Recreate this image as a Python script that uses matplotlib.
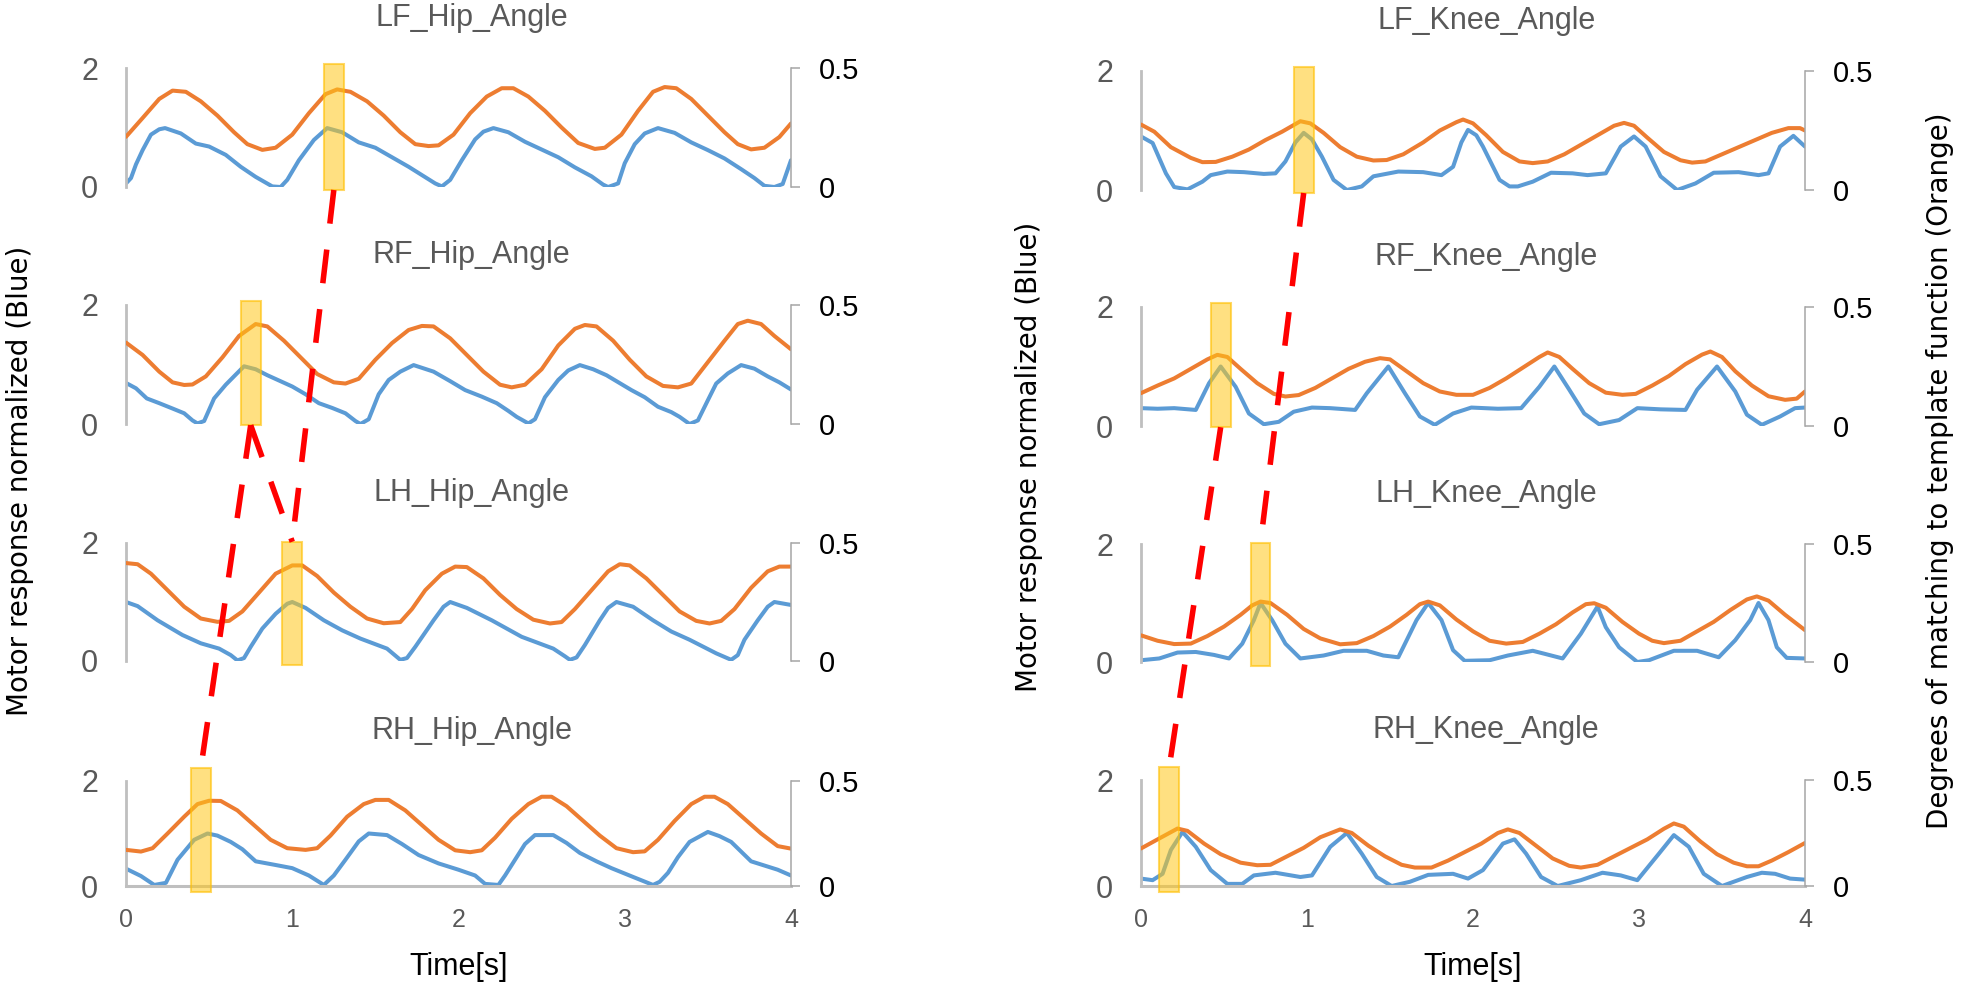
import numpy as np
import matplotlib
matplotlib.use('Agg')
import matplotlib.pyplot as plt
from matplotlib.patches import Rectangle
from matplotlib.lines import Line2D
from matplotlib.transforms import blended_transform_factory

plt.rcParams['font.family'] = ['Liberation Sans', 'DejaVu Sans']

# ---- data: (time [s], value) ----
hip_titles = ['LF_Hip_Angle', 'RF_Hip_Angle', 'LH_Hip_Angle', 'RH_Hip_Angle']
knee_titles = ['LF_Knee_Angle', 'RF_Knee_Angle', 'LH_Knee_Angle', 'RH_Knee_Angle']

lf_hip_blue = [(0, 0.06), (0.03, 0.15), (0.06, 0.38), (0.1, 0.62), (0.15, 0.88), (0.2, 0.97), (0.235, 0.99),
               (0.33, 0.90), (0.42, 0.73), (0.5, 0.68), (0.6, 0.54), (0.69, 0.34), (0.78, 0.17), (0.88, 0.01),
               (0.93, 0.0), (0.97, 0.12), (1.04, 0.45), (1.13, 0.79), (1.21, 0.99), (1.3, 0.92), (1.4, 0.75),
               (1.5, 0.66), (1.6, 0.5), (1.7, 0.34), (1.78, 0.2), (1.86, 0.06), (1.9, 0.01), (1.95, 0.12),
               (2.02, 0.45), (2.1, 0.8), (2.15, 0.93), (2.21, 0.99), (2.3, 0.92), (2.4, 0.76), (2.5, 0.63),
               (2.6, 0.5), (2.7, 0.33), (2.8, 0.18), (2.87, 0.04), (2.9, 0.0), (2.96, 0.06), (3.0, 0.4),
               (3.06, 0.72), (3.12, 0.9), (3.2, 0.99), (3.3, 0.91), (3.4, 0.75), (3.5, 0.62), (3.6, 0.48),
               (3.7, 0.3), (3.78, 0.15), (3.84, 0.02), (3.9, 0.0), (3.95, 0.05), (4.0, 0.45)]
lf_hip_orange = [(0, 0.211), (0.1, 0.29), (0.2, 0.37), (0.28, 0.405), (0.36, 0.40), (0.45, 0.36), (0.55, 0.30),
                 (0.65, 0.23), (0.73, 0.18), (0.82, 0.156), (0.9, 0.165), (1.0, 0.22), (1.1, 0.31), (1.2, 0.39),
                 (1.27, 0.41), (1.35, 0.40), (1.45, 0.36), (1.55, 0.30), (1.65, 0.23), (1.74, 0.18), (1.82, 0.172),
                 (1.88, 0.175), (1.97, 0.22), (2.07, 0.31), (2.17, 0.38), (2.26, 0.415), (2.33, 0.415),
                 (2.42, 0.38), (2.52, 0.32), (2.62, 0.25), (2.72, 0.185), (2.82, 0.16), (2.88, 0.165),
                 (2.98, 0.22), (3.08, 0.32), (3.17, 0.40), (3.24, 0.42), (3.31, 0.415), (3.4, 0.37), (3.5, 0.30),
                 (3.6, 0.23), (3.68, 0.18), (3.76, 0.158), (3.84, 0.165), (3.93, 0.21), (4.0, 0.267)]

rf_hip_blue = [(0, 0.69), (0.06, 0.6), (0.125, 0.43), (0.2, 0.35), (0.28, 0.26), (0.35, 0.18), (0.4, 0.06),
               (0.43, 0.01), (0.47, 0.05), (0.53, 0.43), (0.6, 0.66), (0.66, 0.83), (0.71, 0.97), (0.78, 0.92),
               (0.85, 0.82), (1.0, 0.63), (1.08, 0.5), (1.16, 0.35), (1.24, 0.27), (1.32, 0.18), (1.38, 0.05),
               (1.41, 0.0), (1.46, 0.08), (1.52, 0.5), (1.58, 0.74), (1.65, 0.88), (1.73, 0.99), (1.85, 0.88),
               (1.95, 0.72), (2.04, 0.57), (2.14, 0.46), (2.23, 0.35), (2.3, 0.22), (2.35, 0.12), (2.42, 0.01),
               (2.46, 0.08), (2.52, 0.45), (2.6, 0.74), (2.66, 0.9), (2.73, 0.99), (2.81, 0.92), (2.89, 0.82),
               (3.04, 0.57), (3.12, 0.45), (3.2, 0.29), (3.28, 0.2), (3.33, 0.12), (3.39, 0.0), (3.44, 0.06),
               (3.5, 0.4), (3.55, 0.68), (3.62, 0.85), (3.7, 0.99), (3.78, 0.93), (3.86, 0.8), (3.93, 0.7),
               (4.0, 0.58)]
rf_hip_orange = [(0, 0.342), (0.1, 0.29), (0.2, 0.22), (0.28, 0.175), (0.35, 0.164), (0.4, 0.166), (0.48, 0.2),
                 (0.58, 0.28), (0.68, 0.37), (0.78, 0.42), (0.85, 0.41), (0.95, 0.35), (1.05, 0.28), (1.15, 0.21),
                 (1.25, 0.175), (1.32, 0.17), (1.4, 0.19), (1.5, 0.27), (1.6, 0.34), (1.7, 0.395), (1.78, 0.412),
                 (1.85, 0.41), (1.95, 0.36), (2.05, 0.29), (2.15, 0.22), (2.25, 0.165), (2.32, 0.154),
                 (2.4, 0.165), (2.5, 0.23), (2.6, 0.33), (2.7, 0.4), (2.76, 0.416), (2.83, 0.41), (2.93, 0.35),
                 (3.03, 0.27), (3.13, 0.2), (3.23, 0.16), (3.32, 0.154), (3.4, 0.17), (3.5, 0.26), (3.6, 0.35),
                 (3.68, 0.42), (3.74, 0.434), (3.82, 0.42), (3.9, 0.37), (4.0, 0.314)]

lh_hip_blue = [(0, 1.0), (0.07, 0.93), (0.19, 0.69), (0.34, 0.44), (0.45, 0.3), (0.56, 0.21), (0.63, 0.1),
               (0.67, 0.01), (0.71, 0.05), (0.75, 0.24), (0.82, 0.55), (0.9, 0.8), (0.97, 0.97), (1.0, 1.0),
               (1.08, 0.9), (1.19, 0.69), (1.3, 0.52), (1.41, 0.38), (1.57, 0.21), (1.65, 0.02), (1.69, 0.05),
               (1.74, 0.24), (1.85, 0.69), (1.91, 0.92), (1.95, 1.0), (2.05, 0.9), (2.2, 0.69), (2.38, 0.41),
               (2.57, 0.21), (2.64, 0.08), (2.67, 0.02), (2.71, 0.06), (2.76, 0.27), (2.85, 0.69), (2.9, 0.9),
               (2.95, 1.0), (3.05, 0.92), (3.17, 0.69), (3.28, 0.5), (3.39, 0.36), (3.55, 0.13), (3.64, 0.02),
               (3.68, 0.1), (3.72, 0.36), (3.8, 0.69), (3.86, 0.92), (3.9, 1.0), (3.96, 0.97), (4.0, 0.95)]
lh_hip_orange = [(0, 0.415), (0.07, 0.41), (0.15, 0.37), (0.25, 0.3), (0.35, 0.23), (0.45, 0.18), (0.55, 0.166),
                 (0.62, 0.17), (0.7, 0.21), (0.8, 0.29), (0.9, 0.37), (1.0, 0.405), (1.06, 0.405), (1.15, 0.36),
                 (1.25, 0.29), (1.35, 0.23), (1.45, 0.18), (1.55, 0.16), (1.65, 0.165), (1.72, 0.22), (1.8, 0.3),
                 (1.9, 0.37), (1.98, 0.4), (2.05, 0.398), (2.15, 0.35), (2.25, 0.28), (2.35, 0.22), (2.45, 0.175),
                 (2.55, 0.159), (2.62, 0.165), (2.7, 0.22), (2.8, 0.3), (2.9, 0.38), (2.97, 0.41), (3.03, 0.405),
                 (3.13, 0.35), (3.23, 0.28), (3.33, 0.21), (3.43, 0.17), (3.51, 0.159), (3.58, 0.17), (3.66, 0.22),
                 (3.76, 0.31), (3.86, 0.38), (3.93, 0.4), (4.0, 0.40)]

rh_hip_blue = [(0, 0.33), (0.09, 0.19), (0.17, 0.02), (0.24, 0.06), (0.31, 0.5), (0.41, 0.88), (0.49, 1.0),
               (0.55, 0.96), (0.63, 0.84), (0.7, 0.7), (0.78, 0.47), (0.9, 0.4), (1.0, 0.34), (1.1, 0.2),
               (1.19, 0.02), (1.25, 0.2), (1.32, 0.5), (1.4, 0.85), (1.46, 1.0), (1.57, 0.97), (1.66, 0.8),
               (1.76, 0.59), (1.88, 0.43), (2.0, 0.31), (2.1, 0.2), (2.16, 0.04), (2.24, 0.02), (2.28, 0.2),
               (2.34, 0.5), (2.4, 0.8), (2.46, 0.97), (2.57, 0.97), (2.65, 0.82), (2.73, 0.63), (2.83, 0.47),
               (2.92, 0.34), (3.06, 0.16), (3.17, 0.02), (3.21, 0.08), (3.26, 0.25), (3.32, 0.55), (3.39, 0.84),
               (3.5, 1.03), (3.57, 0.95), (3.64, 0.84), (3.76, 0.47), (3.85, 0.38), (3.92, 0.31), (4.0, 0.2)]
rh_hip_orange = [(0, 0.172), (0.09, 0.164), (0.16, 0.18), (0.25, 0.25), (0.35, 0.33), (0.43, 0.39), (0.5, 0.406),
                 (0.57, 0.405), (0.67, 0.36), (0.77, 0.29), (0.87, 0.22), (0.97, 0.18), (1.08, 0.172), (1.15, 0.18),
                 (1.23, 0.24), (1.33, 0.33), (1.43, 0.39), (1.5, 0.41), (1.58, 0.41), (1.68, 0.36), (1.78, 0.29),
                 (1.88, 0.22), (1.98, 0.17), (2.07, 0.161), (2.14, 0.17), (2.22, 0.23), (2.32, 0.32), (2.42, 0.39),
                 (2.5, 0.425), (2.56, 0.425), (2.65, 0.38), (2.75, 0.31), (2.85, 0.24), (2.95, 0.18), (3.05, 0.161),
                 (3.12, 0.165), (3.2, 0.22), (3.3, 0.31), (3.4, 0.39), (3.48, 0.425), (3.54, 0.425), (3.62, 0.39),
                 (3.72, 0.32), (3.82, 0.25), (3.92, 0.19), (4.0, 0.178)]

lf_knee_blue = [(0, 0.9), (0.07, 0.79), (0.15, 0.28), (0.2, 0.05), (0.28, 0.01), (0.37, 0.14), (0.42, 0.25),
                (0.52, 0.31), (0.62, 0.3), (0.74, 0.27), (0.81, 0.28), (0.87, 0.48), (0.93, 0.8), (0.98, 0.96),
                (1.03, 0.85), (1.09, 0.56), (1.16, 0.17), (1.24, 0.0), (1.33, 0.06), (1.4, 0.23), (1.55, 0.31),
                (1.7, 0.3), (1.81, 0.25), (1.88, 0.39), (1.93, 0.8), (1.97, 1.01), (2.02, 0.92), (2.06, 0.73),
                (2.16, 0.17), (2.22, 0.06), (2.27, 0.06), (2.36, 0.14), (2.47, 0.29), (2.6, 0.28), (2.69, 0.25),
                (2.8, 0.28), (2.89, 0.73), (2.97, 0.9), (3.04, 0.73), (3.13, 0.23), (3.23, 0.0), (3.34, 0.11),
                (3.45, 0.29), (3.6, 0.3), (3.72, 0.25), (3.78, 0.28), (3.85, 0.73), (3.93, 0.91), (4.0, 0.73)]
lf_knee_orange = [(0, 0.275), (0.08, 0.245), (0.18, 0.18), (0.3, 0.135), (0.37, 0.117), (0.45, 0.118),
                  (0.55, 0.14), (0.65, 0.17), (0.75, 0.21), (0.85, 0.245), (0.96, 0.289), (1.02, 0.28), (1.1, 0.24),
                  (1.2, 0.18), (1.3, 0.14), (1.4, 0.124), (1.48, 0.126), (1.58, 0.15), (1.7, 0.2), (1.8, 0.25),
                  (1.9, 0.285), (1.94, 0.296), (2.0, 0.28), (2.08, 0.23), (2.18, 0.16), (2.28, 0.12), (2.36, 0.113),
                  (2.45, 0.12), (2.55, 0.15), (2.65, 0.19), (2.75, 0.23), (2.85, 0.27), (2.91, 0.282), (2.97, 0.27),
                  (3.05, 0.22), (3.15, 0.16), (3.25, 0.125), (3.32, 0.115), (3.4, 0.12), (3.5, 0.15), (3.6, 0.18),
                  (3.7, 0.21), (3.8, 0.24), (3.9, 0.26), (3.97, 0.26), (4.0, 0.25)]

rf_knee_blue = [(0, 0.3), (0.1, 0.29), (0.2, 0.3), (0.33, 0.27), (0.41, 0.72), (0.48, 1.0), (0.57, 0.66),
                (0.65, 0.21), (0.74, 0.03), (0.83, 0.07), (0.92, 0.24), (1.03, 0.31), (1.14, 0.3), (1.29, 0.27),
                (1.36, 0.55), (1.49, 1.0), (1.59, 0.55), (1.68, 0.16), (1.77, 0.02), (1.88, 0.21), (1.99, 0.31),
                (2.15, 0.29), (2.29, 0.3), (2.4, 0.66), (2.49, 1.0), (2.58, 0.61), (2.67, 0.21), (2.76, 0.03),
                (2.88, 0.1), (2.99, 0.3), (3.13, 0.28), (3.28, 0.27), (3.35, 0.61), (3.47, 1.0), (3.58, 0.58),
                (3.65, 0.19), (3.74, 0.02), (3.85, 0.16), (3.94, 0.3), (4.0, 0.31)]
rf_knee_orange = [(0, 0.138), (0.1, 0.17), (0.2, 0.2), (0.3, 0.24), (0.4, 0.28), (0.46, 0.299), (0.52, 0.29),
                  (0.6, 0.24), (0.7, 0.18), (0.8, 0.135), (0.87, 0.124), (0.95, 0.13), (1.05, 0.16), (1.15, 0.2),
                  (1.25, 0.24), (1.35, 0.27), (1.44, 0.285), (1.5, 0.28), (1.6, 0.23), (1.7, 0.18), (1.8, 0.145),
                  (1.9, 0.131), (2.0, 0.131), (2.1, 0.16), (2.2, 0.2), (2.3, 0.245), (2.4, 0.29), (2.45, 0.309),
                  (2.52, 0.29), (2.6, 0.24), (2.7, 0.18), (2.8, 0.14), (2.9, 0.131), (2.98, 0.135), (3.08, 0.17),
                  (3.18, 0.21), (3.28, 0.26), (3.38, 0.3), (3.43, 0.313), (3.5, 0.29), (3.58, 0.23), (3.68, 0.17),
                  (3.78, 0.125), (3.88, 0.11), (3.95, 0.115), (4.0, 0.145)]

lh_knee_blue = [(0, 0.03), (0.11, 0.06), (0.22, 0.16), (0.33, 0.17), (0.44, 0.12), (0.53, 0.06), (0.61, 0.31),
                (0.68, 0.71), (0.72, 1.0), (0.79, 0.71), (0.87, 0.31), (0.96, 0.06), (1.1, 0.11), (1.22, 0.19),
                (1.36, 0.19), (1.46, 0.11), (1.55, 0.08), (1.66, 0.71), (1.73, 1.0), (1.81, 0.71), (1.88, 0.2),
                (1.95, 0.02), (2.1, 0.03), (2.21, 0.11), (2.36, 0.19), (2.43, 0.14), (2.54, 0.06), (2.65, 0.48),
                (2.75, 0.94), (2.8, 0.59), (2.88, 0.25), (2.99, 0.0), (3.06, 0.03), (3.21, 0.19), (3.35, 0.19),
                (3.48, 0.08), (3.58, 0.37), (3.67, 0.71), (3.72, 1.0), (3.78, 0.71), (3.83, 0.25), (3.89, 0.07),
                (4.0, 0.06)]
lh_knee_orange = [(0, 0.113), (0.1, 0.09), (0.2, 0.076), (0.3, 0.078), (0.4, 0.11), (0.5, 0.15), (0.6, 0.2),
                  (0.67, 0.24), (0.72, 0.256), (0.78, 0.25), (0.88, 0.2), (0.98, 0.14), (1.08, 0.1), (1.2, 0.075),
                  (1.3, 0.08), (1.4, 0.11), (1.5, 0.15), (1.6, 0.2), (1.68, 0.245), (1.73, 0.256), (1.8, 0.24),
                  (1.9, 0.18), (2.0, 0.13), (2.1, 0.09), (2.2, 0.078), (2.3, 0.085), (2.4, 0.12), (2.5, 0.16),
                  (2.6, 0.21), (2.68, 0.245), (2.73, 0.249), (2.8, 0.23), (2.9, 0.17), (3.0, 0.12), (3.08, 0.09),
                  (3.15, 0.08), (3.25, 0.09), (3.35, 0.13), (3.45, 0.17), (3.55, 0.22), (3.65, 0.265), (3.71, 0.278),
                  (3.78, 0.26), (3.88, 0.2), (4.0, 0.135)]

rh_knee_blue = [(0, 0.14), (0.07, 0.11), (0.13, 0.23), (0.18, 0.68), (0.25, 1.02), (0.33, 0.74), (0.42, 0.3),
                (0.52, 0.04), (0.61, 0.04), (0.68, 0.2), (0.81, 0.25), (0.96, 0.17), (1.03, 0.2), (1.14, 0.74),
                (1.24, 1.0), (1.33, 0.61), (1.42, 0.17), (1.51, 0.0), (1.62, 0.08), (1.73, 0.21), (1.88, 0.23),
                (1.97, 0.14), (2.06, 0.3), (2.18, 0.8), (2.25, 0.88), (2.32, 0.61), (2.41, 0.17), (2.51, 0.0),
                (2.65, 0.11), (2.78, 0.25), (2.89, 0.2), (2.99, 0.11), (3.12, 0.61), (3.21, 0.96), (3.3, 0.74),
                (3.39, 0.23), (3.5, 0.0), (3.65, 0.17), (3.74, 0.25), (3.82, 0.23), (3.91, 0.14), (4.0, 0.12)]
rh_knee_orange = [(0, 0.177), (0.1, 0.22), (0.22, 0.271), (0.28, 0.26), (0.38, 0.2), (0.48, 0.15), (0.6, 0.11),
                  (0.7, 0.098), (0.78, 0.1), (0.88, 0.14), (0.98, 0.18), (1.08, 0.23), (1.2, 0.267), (1.27, 0.25),
                  (1.37, 0.19), (1.47, 0.14), (1.57, 0.1), (1.65, 0.087), (1.75, 0.087), (1.85, 0.12), (1.95, 0.16),
                  (2.05, 0.2), (2.15, 0.25), (2.21, 0.267), (2.28, 0.25), (2.38, 0.19), (2.48, 0.13), (2.58, 0.095),
                  (2.65, 0.087), (2.75, 0.1), (2.85, 0.14), (2.95, 0.18), (3.05, 0.22), (3.15, 0.27), (3.21, 0.295),
                  (3.27, 0.28), (3.37, 0.21), (3.47, 0.15), (3.57, 0.11), (3.65, 0.093), (3.72, 0.093), (3.8, 0.12),
                  (3.9, 0.16), (4.0, 0.203)]

# highlighted windows (start, end) in seconds
hip_windows = [(1.19, 1.31), (0.69, 0.81), (0.94, 1.06), (0.39, 0.51)]
knee_windows = [(0.92, 1.04), (0.42, 0.54), (0.66, 0.78), (0.11, 0.23)]
# red dashed links: (from panel, to panel)
hip_links = [(0, 2), (1, 2), (1, 3)]
knee_links = [(0, 2), (1, 3)]

hip_blue = [lf_hip_blue, rf_hip_blue, lh_hip_blue, rh_hip_blue]
hip_orange = [lf_hip_orange, rf_hip_orange, lh_hip_orange, rh_hip_orange]
knee_blue = [lf_knee_blue, rf_knee_blue, lh_knee_blue, rh_knee_blue]
knee_orange = [lf_knee_orange, rf_knee_orange, lh_knee_orange, rh_knee_orange]

BLUE = '#5B9BD5'
ORANGE = '#ED7D31'
GRAY_TXT = '#595959'

W, H = 1961, 982
fig = plt.figure(figsize=(W / 100, H / 100), dpi=100)

# pixel boxes of the plot areas (top, bottom)
left_rows = [(68, 187), (305, 424), (543, 661), (781, 886)]
right_rows = [(71, 190), (307, 426), (544, 662), (780, 886)]
rect_span = [(-0.025, 1.03), (-0.01, 1.03), (-0.03, 1.01), (-0.057, 1.12)]


def make_column(x0, x1, rows, titles, blues, oranges, windows, links):
    axes2 = []
    for i, (yt, yb) in enumerate(rows):
        ax = fig.add_axes([x0 / W, 1 - yb / H, (x1 - x0) / W, (yb - yt) / H])
        ax2 = ax.twinx()
        b = np.array(blues[i])
        o = np.array(oranges[i])
        ax.plot(b[:, 0], b[:, 1], color=BLUE, lw=2.9, solid_capstyle='round', solid_joinstyle='round')
        ax2.plot(o[:, 0], o[:, 1], color=ORANGE, lw=2.9, solid_capstyle='round', solid_joinstyle='round')
        ax.set_xlim(0, 4)
        ax.set_ylim(0, 2)
        ax2.set_ylim(0, 0.5)
        ax.set_yticks([0, 2])
        ax.set_yticklabels(['0', '2'])
        ax2.set_yticks([0, 0.5])
        ax2.set_yticklabels(['0', '0.5'])
        ax.tick_params(axis='y', length=0, pad=20, labelsize=22, labelcolor=GRAY_TXT)
        ax2.tick_params(axis='y', direction='out', length=6.5, width=1.1, color='#A6A6A6',
                        pad=13.5, labelsize=21, labelcolor='black')
        ax.set_xticks([0, 1, 2, 3, 4])
        ax.tick_params(axis='x', length=0, pad=16, labelsize=18, labelcolor=GRAY_TXT)
        for s in ['top', 'right']:
            ax.spines[s].set_visible(False)
        for s in ['top', 'left', 'bottom']:
            ax2.spines[s].set_visible(False)
        ax.spines['left'].set_color('#BFBFBF')
        ax.spines['left'].set_linewidth(2.0)
        ax2.spines['right'].set_color('#A6A6A6')
        ax2.spines['right'].set_linewidth(1.1)
        if i < 3:
            ax.spines['bottom'].set_visible(False)
            ax.tick_params(axis='x', labelbottom=False)
        else:
            ax.spines['bottom'].set_color('#BFBFBF')
            ax.spines['bottom'].set_linewidth(2.2)
            ax.set_xlabel('Time[s]', fontsize=22, labelpad=14)
        ax.patch.set_visible(False)
        ax.annotate(titles[i], xy=(0.52, 1), xycoords='axes fraction', xytext=(0, 30),
                    textcoords='offset points', ha='center', va='baseline',
                    fontsize=22, color=GRAY_TXT)
        # highlight window
        t0, t1 = windows[i]
        y0, y1 = rect_span[i]
        tr = blended_transform_factory(ax2.transData, ax2.transAxes)
        ax2.add_patch(Rectangle((t0, y0), t1 - t0, y1 - y0, transform=tr,
                                facecolor=(1, 0.78, 0.1, 0.55), edgecolor=(1, 0.75, 0, 0.6),
                                lw=1.5, clip_on=False, zorder=5))
        axes2.append(ax2)

    inv = fig.transFigure.inverted()
    for a, b in links:
        ta = blended_transform_factory(axes2[a].transData, axes2[a].transAxes)
        tb = blended_transform_factory(axes2[b].transData, axes2[b].transAxes)
        pa = inv.transform(ta.transform((np.mean(windows[a]), rect_span[a][0])))
        pb = inv.transform(tb.transform((np.mean(windows[b]), rect_span[b][1])))
        fig.add_artist(Line2D([pa[0], pb[0]], [pa[1], pb[1]], transform=fig.transFigure,
                              color='#FF0000', lw=4, linestyle=(0, (6.1, 4.7)), zorder=10))


make_column(126, 791, left_rows, hip_titles, hip_blue, hip_orange, hip_windows, hip_links)
make_column(1141, 1805, right_rows, knee_titles, knee_blue, knee_orange, knee_windows, knee_links)

ylab = dict(rotation=90, ha='center', va='center', fontsize=20, family='DejaVu Sans', color='black')
fig.text(20 / W, 1 - 481 / H, 'Motor response normalized (Blue)', **ylab)
fig.text(1029 / W, 1 - 457 / H, 'Motor response normalized (Blue)', **ylab)
fig.text(1940 / W, 1 - 471 / H, 'Degrees of matching to template function (Orange)', **ylab)

fig.savefig('out.png', dpi=100)
